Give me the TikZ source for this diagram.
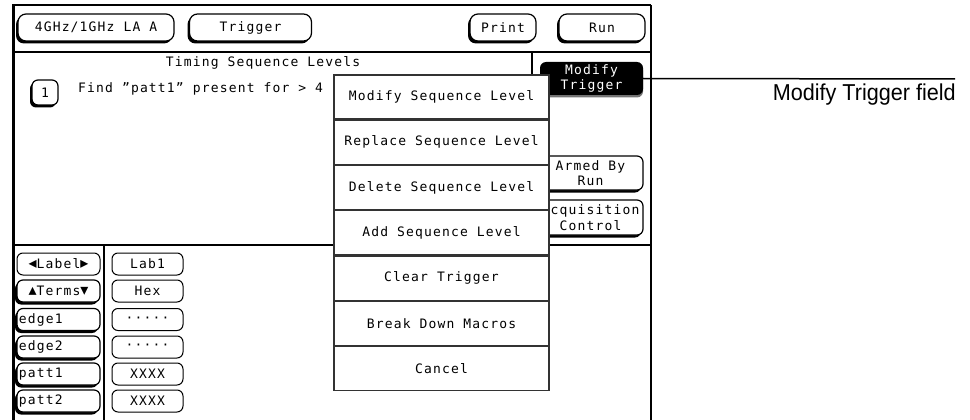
\documentclass[tikz,border=0pt]{standalone}
\usepackage{fontspec}
\newfontfamily\hpfont{DejaVu Sans Mono}[LetterSpace=9]
\newfontfamily\symfont{DejaVu Sans}
\newfontfamily\calloutfont{Liberation Sans}[FakeStretch=0.94]
\usetikzlibrary{positioning,shadows}

\tikzset{
  hptext/.style={font=\hpfont\fontsize{13}{15.5}\selectfont, inner sep=0pt},
  softkey/.style={hptext, draw, fill=white, line width=1.2pt, rounded corners=6pt,
    drop shadow={shadow xshift=-2pt, shadow yshift=-2.5pt, fill=black, opacity=1}},
  flatkey/.style={hptext, draw, fill=white, line width=1pt, rounded corners=6pt},
  menuitem/.style={hptext, draw=black!80, fill=white, line width=1.2pt,
    minimum width=215pt, minimum height=44.1pt},
  frame/.style={line width=2pt},
}
\newcommand{\keyglyph}[1]{{\symfont\fontsize{16}{16}\selectfont #1}}

\begin{document}
\begin{tikzpicture}[x=1pt, y=-1pt]
    \useasboundingbox (0,0) rectangle (970,420);
    \coordinate (fieldend) at (955,79);

    %---------------------------------------------------------------%
    \draw [frame] (12,5) -- (651,5);% top edge
    \draw [line width=3pt] (13,5) -- (13,420);% left edge
    \draw [frame] (651,5) -- (651,420);% right edge
    \draw [line width=1.5pt] (13,52) -- (651,52);
    \draw [frame] (13,245) -- (651,245);
    \draw [frame] (532,52) -- (532,245);
    \draw [line width=1.5pt] (104,245) -- (104,420);

    %---------------------------------------------------------------%
    \node [softkey, rounded corners=8pt, minimum width=156pt, minimum height=27pt] (lasel) at (96,27.5) {4GHz/1GHz LA A};
    \node [softkey, rounded corners=8pt, minimum width=122pt, minimum height=27pt] (trig) at (250.5,27.5) {Trigger};
    \node [softkey, rounded corners=8pt, minimum width=66pt, minimum height=27pt] (prnt) at (503,27.5) {Print};
    \node [softkey, rounded corners=8pt, minimum width=86pt, minimum height=27pt] (runb) at (602,27.5) {Run};

    %---------------------------------------------------------------%
    \node [hptext] (ttl) at (263,63) {Timing Sequence Levels};
    \node [softkey, minimum width=26pt, minimum height=25pt] (lvl1) at (45,92.5) {1};
    \node [hptext, anchor=west] (find) at (78,89) {Find ”patt1” present for > 4};

    \node [softkey, minimum width=105pt, minimum height=34pt, align=center] (armed) at (590.5,173) {Armed By\\Run};
    \node [softkey, minimum width=105pt, minimum height=35pt, align=center] (acq) at (590.5,217.5) {Acquisition\\Control};
    \node [hptext, fill=black, text=white, rounded corners=6pt, minimum width=103pt, minimum height=33pt, align=center,
      drop shadow={shadow xshift=0pt, shadow yshift=-2.5pt, fill=black!55, opacity=1}] (modtrig) at (591.5,78.5) {Modify\\Trigger};

    %---------------------------------------------------------------%
    \node [flatkey, minimum width=83pt, minimum height=22pt] (lblkey) at (58.5,264) {\keyglyph{◂}Label\keyglyph{▸}};
    \node [softkey, minimum width=83pt, minimum height=22pt] (trmkey) at (58.5,291) {\keyglyph{▴}Terms\keyglyph{▾}};
    \foreach \y/\nm in {319.5/edge1,347/edge2,374/patt1,401/patt2}{% term names
        \node [softkey, minimum width=83pt, minimum height=22pt, text width=79pt, align=left] (\nm) at (58.5,\y) {\nm};
    }
    \foreach \y/\nm/\txt in {264/lab/Lab1,291/hex/Hex,319.5/dota/·····,347/dotb/·····,374/pata/XXXX,401/patb/XXXX}{% term values
        \node [flatkey, minimum width=71pt, minimum height=22pt] (\nm) at (147.5,\y) {\txt};
    }

    %---------------------------------------------------------------%
    \node [menuitem] (msl) at (441.5,97) {Modify Sequence Level};
    \node [menuitem, below=0pt of msl] (rsl) {Replace Sequence Level};
    \node [menuitem, below=0pt of rsl] (dsl) {Delete Sequence Level};
    \node [menuitem, below=0pt of dsl] (asl) {Add Sequence Level};
    \node [menuitem, below=0pt of asl] (clr) {Clear Trigger};
    \node [menuitem, below=0pt of clr] (bdm) {Break Down Macros};
    \node [menuitem, below=0pt of bdm] (cnl) {Cancel};

    %---------------------------------------------------------------%
    \draw [line width=1.5pt] (modtrig.east) -- (fieldend);
    \node [font=\calloutfont\fontsize{23}{25}\selectfont, anchor=base east, inner sep=0pt] (fieldlbl) at (956,101) {Modify Trigger field};
\end{tikzpicture}
\end{document}
